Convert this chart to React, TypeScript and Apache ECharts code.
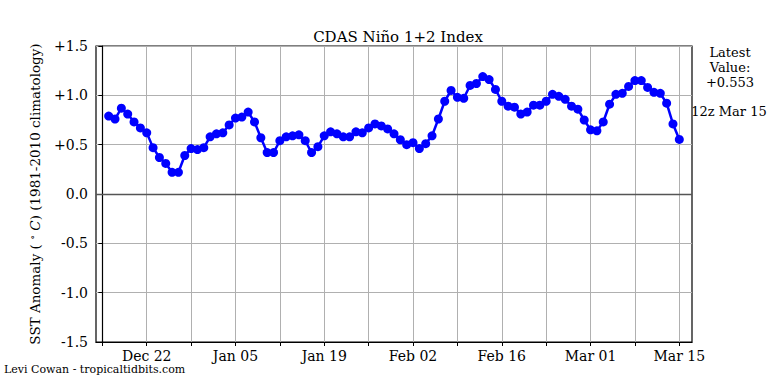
import React, { useEffect, useRef } from "react";
import * as echarts from "echarts";

// Day offsets from Dec 15, 2023 (0) ; data begins Dec 16 (1) through Mar 15, 2024 (91)
const startDay = 1;
const values = [
  0.79, 0.76, 0.87, 0.81, 0.73, 0.67, 0.62, 0.47, 0.37, 0.31,
  0.22, 0.22, 0.39, 0.46, 0.45, 0.47, 0.58, 0.61, 0.62, 0.70,
  0.77, 0.78, 0.83, 0.73, 0.57, 0.42, 0.42, 0.54, 0.58, 0.59,
  0.60, 0.54, 0.42, 0.48, 0.59, 0.63, 0.61, 0.58, 0.58, 0.63,
  0.62, 0.67, 0.71, 0.69, 0.66, 0.61, 0.55, 0.50, 0.52, 0.46,
  0.51, 0.59, 0.76, 0.94, 1.05, 0.98, 0.97, 1.10, 1.12, 1.19,
  1.16, 1.06, 0.94, 0.89, 0.88, 0.81, 0.83, 0.90, 0.90, 0.94,
  1.01, 0.99, 0.96, 0.89, 0.86, 0.75, 0.65, 0.64, 0.73, 0.91,
  1.01, 1.02, 1.09, 1.15, 1.15, 1.08, 1.03, 1.02, 0.92, 0.71,
  0.553,
];
const tickDays = [0, 7, 14, 21, 28, 35, 42, 49, 56, 63, 70, 77, 84, 91];
const labelDays = [7, 21, 35, 49, 63, 77, 91];
const labelTexts = ["Dec 22", "Jan 05", "Jan 19", "Feb 02", "Feb 16", "Mar 01", "Mar 15"];

const FONT = "DejaVu Serif";

export default function App() {
  const ref = useRef<HTMLDivElement>(null);
  useEffect(() => {
    if (!ref.current) return;
    const chart = echarts.init(ref.current, null, { renderer: "svg" });
    const data = values.map((v, i) => [startDay + i, v]);
    chart.setOption({
      animation: false,
      backgroundColor: "#fff",
      title: {
        text: "CDAS Niño 1+2 Index",
        left: 393,
        top: 24,
        textAlign: "center",
        textStyle: { fontFamily: FONT, fontSize: 15, fontWeight: "normal", color: "#000" },
      },
      grid: {
        left: 96,
        right: 76,
        top: 46,
        bottom: 42,
        show: true,
        borderColor: "#000",
        borderWidth: 1.2,
        backgroundColor: "transparent",
      },
      xAxis: {
        type: "value",
        min: -1,
        max: 93,
        axisLine: { show: true, onZero: false, lineStyle: { color: "#000", width: 1.2 } },
        axisTick: {
          show: true,
          inside: false,
          length: 4,
          customValues: tickDays,
          lineStyle: { color: "#000", width: 1 },
        },
        axisLabel: {
          customValues: labelDays,
          formatter: (v: number) => {
            const i = labelDays.indexOf(Math.round(v));
            return i >= 0 ? labelTexts[i] : "";
          },
          fontFamily: FONT,
          fontSize: 14,
          color: "#000",
          margin: 7,
        },
        splitLine: { show: true, lineStyle: { color: "#b0b0b0", width: 1 } },
      },
      yAxis: {
        type: "value",
        min: -1.5,
        max: 1.5,
        interval: 0.5,
        name: "SST Anomaly ( {sup|∘} {it|C}) (1981-2010 climatology)",
        nameLocation: "middle",
        nameRotate: 90,
        nameGap: 53,
        nameTextStyle: {
          fontFamily: FONT,
          fontSize: 13.5,
          color: "#000",
          rich: {
            sup: { fontFamily: FONT, fontSize: 10, color: "#000", verticalAlign: "top", padding: [0, 0, 6, 0] },
            it: { fontFamily: FONT, fontSize: 13.5, fontStyle: "italic", color: "#000" },
          },
        },
        axisLine: { show: true, lineStyle: { color: "#000", width: 1.2 } },
        axisTick: { show: true, inside: false, length: 4, lineStyle: { color: "#000" } },
        axisLabel: {
          formatter: (v: number) => {
            const r = Math.round(v * 10) / 10;
            if (r > 0) return "+" + r.toFixed(1);
            if (r === 0) return "0.0";
            return r.toFixed(1);
          },
          fontFamily: FONT,
          fontSize: 14,
          color: "#000",
          margin: 8,
        },
        splitLine: { show: true, lineStyle: { color: "#b0b0b0", width: 1 } },
      },
      series: [
        {
          type: "line",
          data,
          showSymbol: true,
          symbol: "circle",
          symbolSize: 9,
          itemStyle: { color: "#0000ff" },
          lineStyle: { color: "#0000ff", width: 2.5 },
          z: 5,
          markLine: {
            silent: true,
            symbol: "none",
            label: { show: false },
            lineStyle: { color: "#555555", width: 1.3, type: "solid" },
            data: [{ yAxis: 0 }],
            z: 3,
          },
        },
      ],
      graphic: [
        {
          type: "text",
          left: 4,
          top: 364,
          style: {
            text: "Levi Cowan - tropicaltidbits.com",
            fontFamily: FONT,
            fontSize: 11,
            fill: "#000",
          },
        },
        {
          type: "text",
          x: 730,
          y: 45,
          style: {
            text: "Latest\nValue:\n+0.553",
            fontFamily: FONT,
            fontSize: 13,
            lineHeight: 15,
            align: "center",
            fill: "#000",
          },
        },
        {
          type: "text",
          x: 729,
          y: 105,
          style: {
            text: "12z Mar 15",
            fontFamily: FONT,
            fontSize: 13,
            align: "center",
            fill: "#000",
          },
        },
      ],
    });
    return () => chart.dispose();
  }, []);
  return (
    <div
      ref={ref}
      style={{ position: "fixed", left: 0, top: 0, width: 768, height: 384 }}
    />
  );
}
